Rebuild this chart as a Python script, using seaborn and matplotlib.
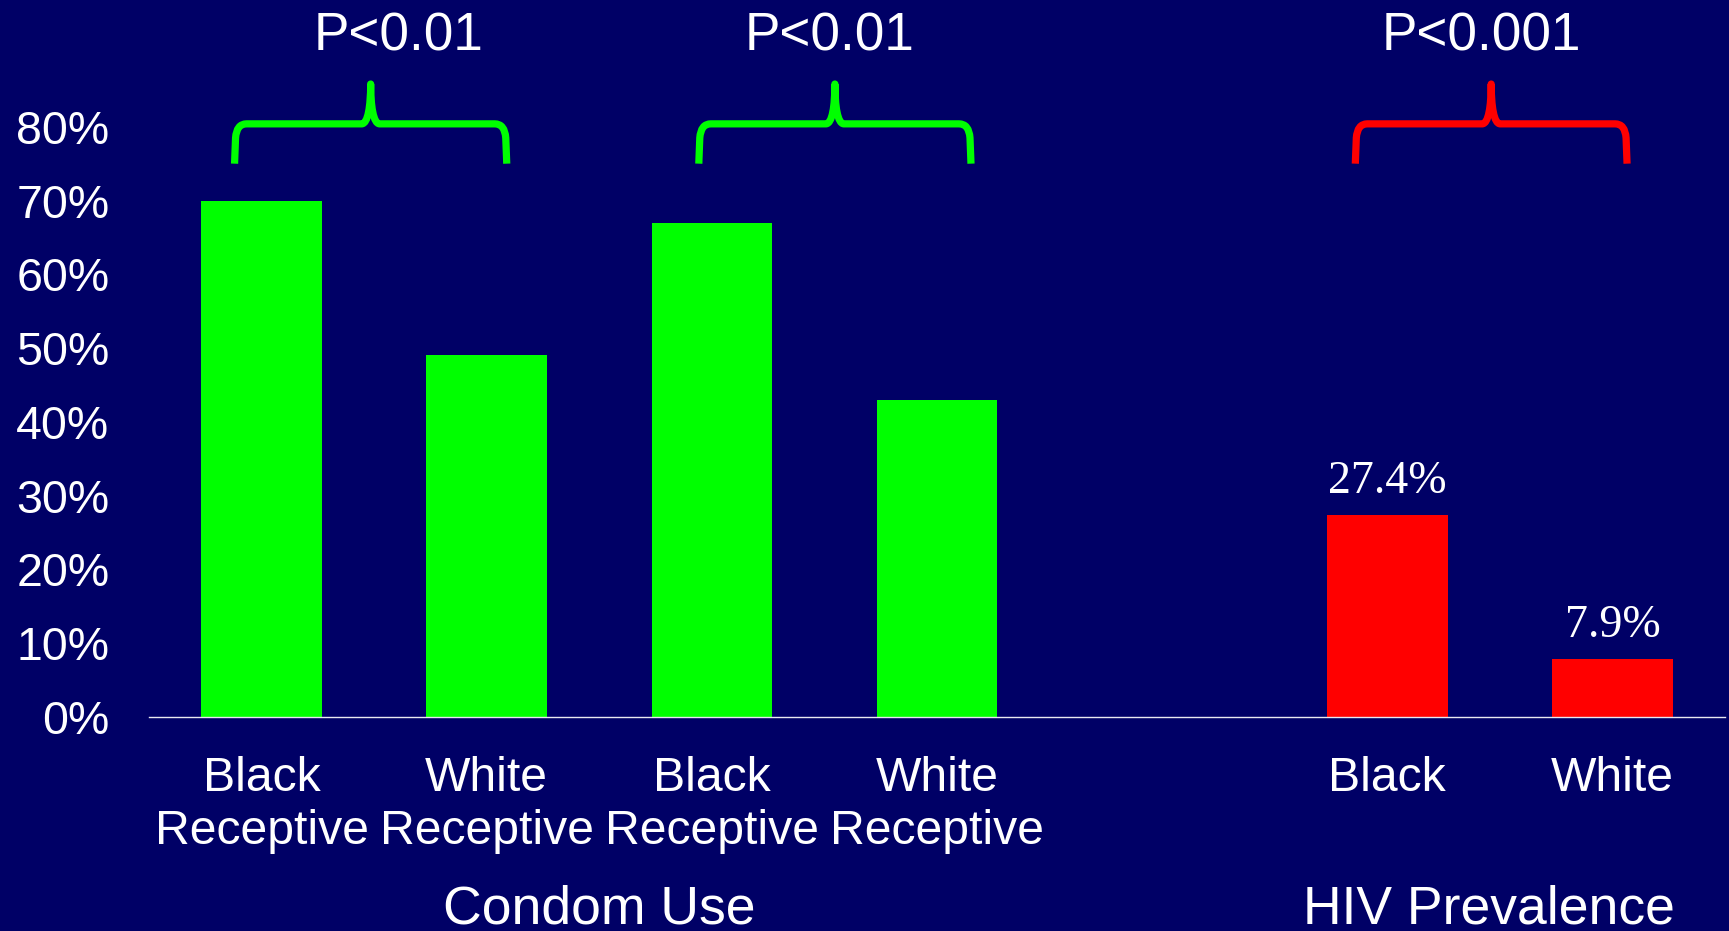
import numpy as np
import pandas as pd
import matplotlib
matplotlib.use("Agg")
import matplotlib.pyplot as plt
from matplotlib.path import Path
from matplotlib.patches import PathPatch
import seaborn as sns

# ---- data -------------------------------------------------------------
bar_labels = ["Black\nReceptive", "White\nReceptive",
              "Black\nReceptive", "White\nReceptive",
              "Black", "White"]
bar_values = [70, 49, 67, 43, 27.4, 7.9]
bar_groups = ["Condom Use"] * 4 + ["HIV Prevalence"] * 2
value_labels = ["", "", "", "", "27.4%", "7.9%"]

group_names = ["Condom Use", "HIV Prevalence"]
group_colors = {"Condom Use": "#00FF00", "HIV Prevalence": "#FF0000"}

pvalue_texts = ["P<0.01", "P<0.01", "P<0.001"]
pvalue_colors = ["#00FF00", "#00FF00", "#FF0000"]
# horizontal extent of each brace and centre of its p-value text (x data units)
brace_spans = [(-0.12, 1.089), (1.942, 3.151), (4.858, 6.065)]
pvalue_x = [0.609, 2.524, 5.42]

y_ticks = [0, 10, 20, 30, 40, 50, 60, 70, 80]

BG = "#000066"
SANS = ["Liberation Sans", "DejaVu Sans"]
SERIF = ["Liberation Serif", "DejaVu Serif"]

# slot positions: one empty slot between the two groups
positions = []
for i, g in enumerate(bar_groups):
    positions.append(i + group_names.index(g))

df = pd.DataFrame({"pos": positions, "value": bar_values, "group": bar_groups})

sns.set_theme(style="white")
plt.rcParams["font.family"] = SANS

W, H, DPI = 1729, 931, 100
fig = plt.figure(figsize=(W / DPI, H / DPI), dpi=DPI, facecolor=BG)
ax_bottom_px = 716.8
ax = fig.add_axes([149 / W, (H - ax_bottom_px) / H, (1725 - 149) / W, ax_bottom_px / H])
ax.set_facecolor(BG)

sns.barplot(data=df, x="pos", y="value", hue="group", palette=group_colors,
            native_scale=True, dodge=False, width=0.535, saturation=1,
            linewidth=0, legend=False, ax=ax)

px_per_pct = 7.375
ax.set_xlim(-0.5, 6.5)
ax.set_ylim(0, ax_bottom_px / px_per_pct)

for s in ["top", "right", "left"]:
    ax.spines[s].set_visible(False)
ax.spines["bottom"].set_color("#E8E8F0")
ax.spines["bottom"].set_linewidth(1.0)

ax.set_yticks(y_ticks, [f"{v}%" for v in y_ticks])
ax.set_xticks(positions, bar_labels)
ax.tick_params(axis="y", length=0, pad=28.5, labelsize=33.5, labelcolor="white")
ax.tick_params(axis="x", length=0, pad=28, labelsize=34.7, labelcolor="white")
for t in ax.get_xticklabels():
    t.set_linespacing(1.24)
ax.set_xlabel("")
ax.set_ylabel("")
ax.grid(False)

# value labels above the HIV bars
for x, v, lab in zip(positions, bar_values, value_labels):
    if lab:
        ax.annotate(lab, (x, v), xytext=(0, 15.6), textcoords="offset points",
                    ha="center", va="baseline", fontsize=33, color="white",
                    family=SERIF)

# group captions under the tick labels
xt = ax.get_xaxis_transform()
for g in group_names:
    xs = [p for p, gg in zip(positions, bar_groups) if gg == g]
    ax.text(np.mean(xs) - (0.05 if g == "HIV Prevalence" else 0), -0.2884, g,
            transform=xt, ha="center", va="baseline", fontsize=38.5,
            color="white", clip_on=False)

# curly braces with p-values
pxx = 1 / 225.0          # one pixel in x data units
pxy = 1 / px_per_pct     # one pixel in y data units


def brace(x0, x1, yb, yh, yt, color):
    cx = (x0 + x1) / 2
    rx, ry, d = 12 * pxx, 14 * pxy, 9 * pxx
    verts = [
        (x0, yb), (x0 + 1 * pxx, yh - ry),
        (x0 + 2 * pxx, yh), (x0 + rx, yh),
        (cx - d, yh),
        (cx - 0.3 * d, yh), (cx, yh + 0.45 * (yt - yh)), (cx, yt),
        (cx, yh + 0.45 * (yt - yh)), (cx + 0.3 * d, yh), (cx + d, yh),
        (x1 - rx, yh),
        (x1 - 2 * pxx, yh), (x1 - 1 * pxx, yh - ry),
        (x1, yb),
    ]
    codes = [Path.MOVETO, Path.LINETO,
             Path.CURVE3, Path.CURVE3,
             Path.LINETO,
             Path.CURVE4, Path.CURVE4, Path.CURVE4,
             Path.CURVE4, Path.CURVE4, Path.CURVE4,
             Path.LINETO,
             Path.CURVE3, Path.CURVE3,
             Path.LINETO]
    ax.add_patch(PathPatch(Path(verts, codes), fill=False, edgecolor=color,
                           linewidth=5.2, capstyle="butt", joinstyle="round",
                           clip_on=False))


for (x0, x1), tx, txt, col in zip(brace_spans, pvalue_x, pvalue_texts, pvalue_colors):
    brace(x0, x1, 75.0, 80.4, 85.8, col)
    ax.text(tx, 90.4, txt, ha="center", va="baseline",
            fontsize=38.2, color="white")

fig.savefig("out.png", dpi=DPI, facecolor=BG)
